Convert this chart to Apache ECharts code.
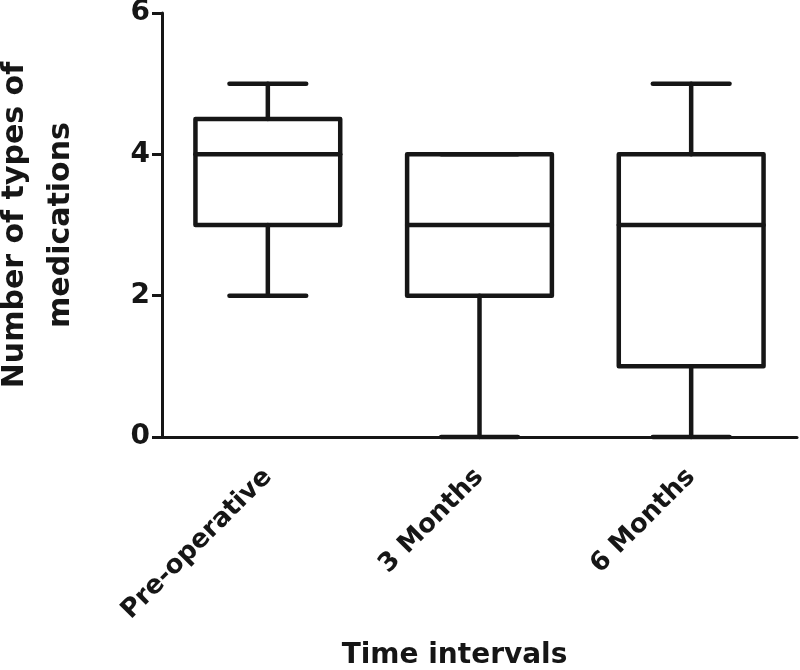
<!DOCTYPE html>
<html>
<head>
<meta charset="utf-8">
<script src="https://cdn.jsdelivr.net/npm/echarts@6/dist/echarts.min.js"></script>
<style>
  html, body { margin: 0; padding: 0; background: #fff; }
  #chart { width: 800px; height: 670px; }
</style>
</head>
<body>
<div id="chart"></div>
<script>
// categories on the x axis
const categories = ["Pre-operative", "3 Months", "6 Months"];
// box values per category: min, Q1, median, Q3, max
const mins = [2, 0, 0];
const q1s = [3, 2, 1];
const medians = [4, 3, 3];
const q3s = [4.5, 4, 4];
const maxs = [5, 4, 5];
const yTicks = [0, 2, 4, 6];

const font = "DejaVu Sans, Verdana, sans-serif";
const ink = "#161616";

const boxData = categories.map((c, i) => [i, mins[i], q1s[i], medians[i], q3s[i], maxs[i]]);

function renderBox(params, api) {
  const i = api.value(0);
  const band = api.size([1, 0])[0];
  const half = band * 0.342;
  const cap = half * 0.53;
  const pMin = api.coord([i, api.value(1)]);
  const pQ1 = api.coord([i, api.value(2)]);
  const pMed = api.coord([i, api.value(3)]);
  const pQ3 = api.coord([i, api.value(4)]);
  const pMax = api.coord([i, api.value(5)]);
  const x = pMed[0];
  const style = { stroke: ink, lineWidth: 4.5, fill: null, lineCap: "round", lineJoin: "round" };
  const line = (x1, y1, x2, y2) => ({ type: "line", shape: { x1, y1, x2, y2 }, style });
  return {
    type: "group",
    children: [
      { type: "rect", shape: { x: x - half, y: pQ3[1], width: half * 2, height: pQ1[1] - pQ3[1] }, style },
      line(x - half, pMed[1], x + half, pMed[1]),
      line(x, pQ3[1], x, pMax[1]),
      line(x, pQ1[1], x, pMin[1]),
      line(x - cap, pMax[1], x + cap, pMax[1]),
      line(x - cap, pMin[1], x + cap, pMin[1])
    ]
  };
}

const chart = echarts.init(document.getElementById("chart"));
chart.setOption({
  animation: false,
  grid: { left: 162, right: 3, top: 13, bottom: 233, containLabel: false, outerBoundsMode: "none" },
  xAxis: {
    type: "category",
    data: categories,
    name: "Time intervals",
    nameLocation: "middle",
    nameGap: 205,
    nameTextStyle: { fontFamily: font, fontWeight: "bold", fontSize: 28, color: ink, padding: [0, 50, 0, 0] },
    axisLine: { lineStyle: { color: ink, width: 3 } },
    axisTick: { alignWithLabel: true, length: 12, lineStyle: { color: ink, width: 3 } },
    axisLabel: { rotate: 45, margin: 36, fontFamily: font, fontWeight: "bold", fontSize: 26, color: ink },
    splitLine: { show: false }
  },
  yAxis: {
    type: "value",
    min: yTicks[0],
    max: yTicks[yTicks.length - 1],
    interval: 2,
    name: "Number of types of\nmedications",
    nameLocation: "middle",
    nameGap: 78,
    nameTextStyle: { fontFamily: font, fontWeight: "bold", fontSize: 30, color: ink, lineHeight: 46 },
    axisLine: { show: true, lineStyle: { color: ink, width: 3 } },
    axisTick: { show: true, length: 10, lineStyle: { color: ink, width: 3 } },
    axisLabel: { margin: 12, fontFamily: font, fontWeight: "bold", fontSize: 28, color: ink },
    splitLine: { show: false }
  },
  series: [{
    type: "custom",
    renderItem: renderBox,
    data: boxData,
    encode: { x: 0, y: [1, 2, 3, 4, 5] },
    clip: false
  }]
});
</script>
</body>
</html>
